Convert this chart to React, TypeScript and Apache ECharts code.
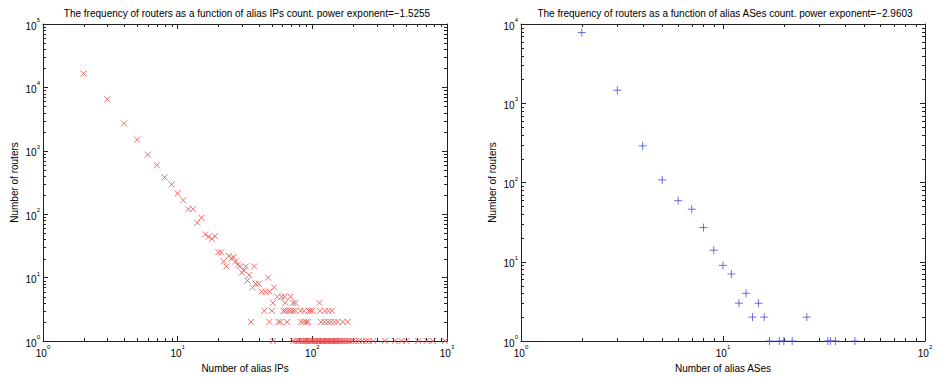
import React, { useEffect, useRef } from 'react';
import * as echarts from 'echarts';

// ---- Left panel: routers vs alias IPs count ----
const ipCounts = [
  2, 3, 4, 5, 6, 7, 8, 9, 10, 11, 12, 13, 14, 15, 16, 17, 18, 19, 20, 21, 22, 23, 24, 25, 26, 27, 28, 29, 30, 31, 32, 33, 34, 36, 37, 38, 40, 42, 45, 47, 48, 52,
  55, 59, 62, 69,
  51, 63, 72, 75, 113,
  44, 50, 61, 63, 66, 69, 72, 75, 82, 87, 94, 97, 100, 114, 124, 132, 140,
  35, 48, 56, 58, 65, 82, 86, 90, 93, 116, 123, 131, 137, 146, 154, 168, 183,
  51, 72, 75, 78, 80, 83, 85, 88, 90, 92, 95, 97, 99, 102, 105, 107, 110, 112, 115, 118, 120, 123, 126, 128, 131, 134, 137, 140, 143, 147, 150, 153, 157, 160, 165, 170, 175, 180, 186, 192, 200, 210, 222, 235, 250, 262, 283, 346, 410, 460, 501, 611, 706, 789, 965,
];
const ipRouters = [
  16500, 6500, 2700, 1500, 870, 590, 380, 295, 213, 166, 120, 120, 73, 88, 48, 44, 41, 45, 25, 25, 18, 15, 22, 20, 21, 18, 16, 15, 12, 13, 15, 9, 11, 7, 15, 8, 8, 6, 6, 10, 6, 7,
  5, 5, 5, 5,
  4, 4, 4, 4, 4,
  3, 3, 3, 3, 3, 3, 3, 3, 3, 3, 3, 3, 3, 3, 3, 3, 3,
  2, 2, 2, 2, 2, 2, 2, 2, 2, 2, 2, 2, 2, 2, 2, 2, 2,
  1, 1, 1, 1, 1, 1, 1, 1, 1, 1, 1, 1, 1, 1, 1, 1, 1, 1, 1, 1, 1, 1, 1, 1, 1, 1, 1, 1, 1, 1, 1, 1, 1, 1, 1, 1, 1, 1, 1, 1, 1, 1, 1, 1, 1, 1, 1, 1, 1, 1, 1, 1, 1, 1, 1,
];

// ---- Right panel: routers vs alias ASes count ----
const asCounts = [2, 3, 4, 5, 6, 7, 8, 9, 10, 11, 13, 12, 15, 14, 16, 26, 17, 19, 20, 22, 33, 34, 36, 45];
const asRouters = [7800, 1460, 290, 108, 59, 46, 27, 14, 9, 7, 4, 3, 3, 2, 2, 2, 1, 1, 1, 1, 1, 1, 1, 1];

const leftTitle = 'The frequency of routers as a function of alias IPs count. power exponent=\u22121.5255';
const rightTitle = 'The frequency of routers as a function of alias ASes count. power exponent=\u22122.9603';
const leftXName = 'Number of alias IPs';
const rightXName = 'Number of alias ASes';
const yName = 'Number of routers';

const leftXMaxExp = 3;
const leftYMaxExp = 5;
const rightXMaxExp = 2;
const rightYMaxExp = 4;

const AXIS_COLOR = '#222';
const FONT = 'Liberation Sans, Arial, Helvetica, sans-serif';

function pairs(xs: number[], ys: number[]) {
  return xs.map((x, i) => [x, ys[i]]);
}

function minorData(xMaxExp: number, yMaxExp: number) {
  const out: number[][] = [];
  for (let e = 0; e < xMaxExp; e++) for (let k = 2; k <= 9; k++) out.push([k * Math.pow(10, e), 1, 0]);
  for (let e = 0; e < yMaxExp; e++) for (let k = 2; k <= 9; k++) out.push([1, k * Math.pow(10, e), 1]);
  return out;
}

const labelFormatter = (v: number) => `{b|10}{s|${Math.round(Math.log10(v))}}`;
const labelRich = {
  b: { fontSize: 10, fontFamily: FONT, color: '#000', padding: [4, 0, 0, 0] },
  s: { fontSize: 6, fontFamily: FONT, color: '#000', verticalAlign: 'top' },
};

function xAxes(grid: number, maxExp: number, name: string) {
  const base = {
    type: 'log',
    logBase: 10,
    gridIndex: grid,
    min: 1,
    max: Math.pow(10, maxExp),
    axisLine: { show: true, lineStyle: { color: AXIS_COLOR, width: 1 } },
    axisTick: { show: true, inside: true, length: 5, lineStyle: { color: AXIS_COLOR } },
    splitLine: { show: false },
    minorTick: { show: false },
  };
  return [
    {
      ...base,
      position: 'bottom',
      name,
      nameLocation: 'middle',
      nameGap: 22,
      nameTextStyle: { fontSize: 10, fontFamily: FONT, color: '#000' },
      axisLabel: { show: true, margin: 3, formatter: labelFormatter, rich: labelRich },
    },
    { ...base, position: 'top', axisLabel: { show: false } },
  ];
}

function yAxes(grid: number, maxExp: number) {
  const base = {
    type: 'log',
    logBase: 10,
    gridIndex: grid,
    min: 1,
    max: Math.pow(10, maxExp),
    axisLine: { show: true, lineStyle: { color: AXIS_COLOR, width: 1 } },
    axisTick: { show: true, inside: true, length: 5, lineStyle: { color: AXIS_COLOR } },
    splitLine: { show: false },
    minorTick: { show: false },
  };
  return [
    {
      ...base,
      position: 'left',
      name: yName,
      nameLocation: 'middle',
      nameGap: 24,
      nameTextStyle: { fontSize: 10, fontFamily: FONT, color: '#000' },
      axisLabel: { show: true, margin: 3, formatter: labelFormatter, rich: labelRich },
    },
    { ...base, position: 'right', axisLabel: { show: false } },
  ];
}

function minorSeries(xIdx: number, yIdx: number, xMaxExp: number, yMaxExp: number) {
  return {
    type: 'custom',
    xAxisIndex: xIdx,
    yAxisIndex: yIdx,
    silent: true,
    clip: false,
    z: 1,
    data: minorData(xMaxExp, yMaxExp),
    renderItem: (params: any, api: any) => {
      const cs = params.coordSys;
      const isY = api.value(2) === 1;
      const p = api.coord([api.value(0), api.value(1)]);
      const st = { stroke: AXIS_COLOR, lineWidth: 1 };
      if (!isY) {
        const x = Math.round(p[0]) + 0.5;
        return {
          type: 'group',
          children: [
            { type: 'line', shape: { x1: x, y1: cs.y + cs.height, x2: x, y2: cs.y + cs.height - 3 }, style: st },
            { type: 'line', shape: { x1: x, y1: cs.y, x2: x, y2: cs.y + 3 }, style: st },
          ],
        };
      }
      const y = Math.round(p[1]) + 0.5;
      return {
        type: 'group',
        children: [
          { type: 'line', shape: { x1: cs.x, y1: y, x2: cs.x + 3, y2: y }, style: st },
          { type: 'line', shape: { x1: cs.x + cs.width, y1: y, x2: cs.x + cs.width - 3, y2: y }, style: st },
        ],
      };
    },
  };
}

export default function App() {
  const ref = useRef<HTMLDivElement>(null);
  useEffect(() => {
    if (!ref.current) return;
    const chart = echarts.init(ref.current, null, { renderer: 'svg' });
    const option: any = {
      animation: false,
      backgroundColor: '#fff',
      grid: [
        { left: 43, top: 24, width: 404, height: 319 },
        { left: 521, top: 24, width: 404, height: 319 },
      ],
      xAxis: [...xAxes(0, leftXMaxExp, leftXName), ...xAxes(1, rightXMaxExp, rightXName)],
      yAxis: [...yAxes(0, leftYMaxExp), ...yAxes(1, rightYMaxExp)],
      graphic: [
        {
          type: 'text',
          x: 247,
          y: 13,
          style: { text: leftTitle, fontSize: 10, fontFamily: FONT, fill: '#000', textAlign: 'center', textVerticalAlign: 'middle' },
        },
        {
          type: 'text',
          x: 725,
          y: 13,
          style: { text: rightTitle, fontSize: 10, fontFamily: FONT, fill: '#000', textAlign: 'center', textVerticalAlign: 'middle' },
        },
      ],
      series: [
        minorSeries(0, 0, leftXMaxExp, leftYMaxExp),
        minorSeries(2, 2, rightXMaxExp, rightYMaxExp),
        {
          type: 'scatter',
          xAxisIndex: 0,
          yAxisIndex: 0,
          clip: false,
          z: 3,
          symbol: 'path://M0 0L10 10M10 0L0 10',
          symbolSize: 6,
          itemStyle: { color: 'rgba(0,0,0,0)', borderColor: '#f04848', borderWidth: 1 },
          data: pairs(ipCounts, ipRouters),
        },
        {
          type: 'scatter',
          xAxisIndex: 2,
          yAxisIndex: 2,
          clip: false,
          z: 3,
          symbol: 'path://M5 0L5 10M0 5L10 5',
          symbolSize: 8,
          itemStyle: { color: 'rgba(0,0,0,0)', borderColor: '#4a4ae0', borderWidth: 1 },
          data: pairs(asCounts, asRouters),
        },
      ],
    };
    chart.setOption(option);
    return () => chart.dispose();
  }, []);
  return (
    <div
      ref={ref}
      style={{ position: 'fixed', left: 0, top: 0, width: 940, height: 378, background: '#fff' }}
    />
  );
}
